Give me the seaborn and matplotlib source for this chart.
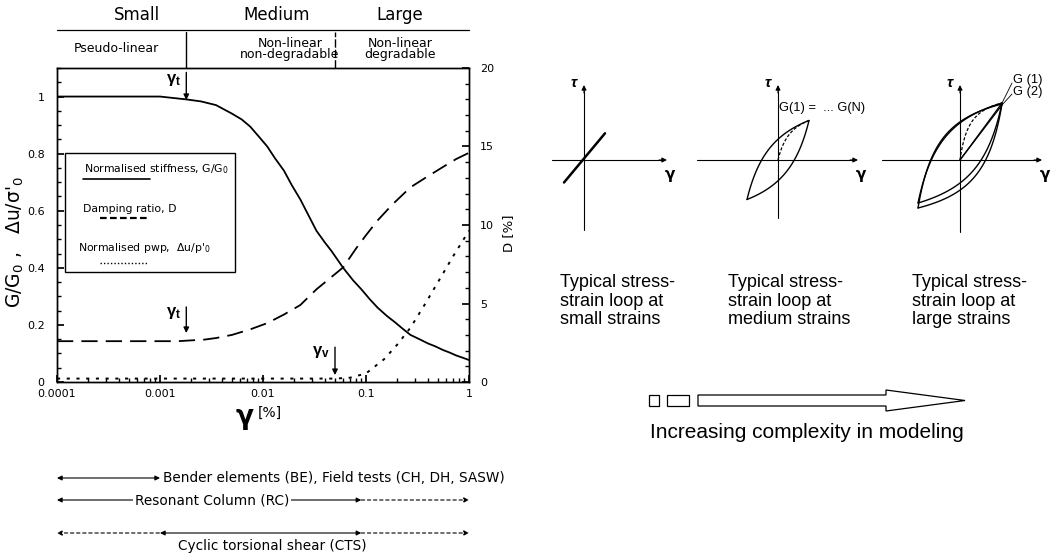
import numpy as np
import pandas as pd
import matplotlib
matplotlib.use("Agg")
import matplotlib.pyplot as plt
import seaborn as sns
from matplotlib.transforms import blended_transform_factory
from matplotlib.patches import Rectangle, Polygon
from matplotlib.ticker import MultipleLocator, LogLocator, NullFormatter, FixedLocator, FixedFormatter

# ---- stiffness degradation, damping and pore pressure vs shear strain (%) ----
gamma_G = [1e-4, 3e-4, 1e-3, 1.8e-3, 2.5e-3, 3.5e-3, 5e-3, 6.2e-3, 7.5e-3, 9e-3,
           0.011, 0.013, 0.016, 0.019, 0.023, 0.028, 0.033, 0.04, 0.046, 0.06,
           0.075, 0.09, 0.11, 0.13, 0.16, 0.19, 0.23, 0.27, 0.33, 0.4, 0.47,
           0.56, 0.65, 0.75, 0.87, 1.0]
G_ratio = [1.0, 1.0, 1.0, 0.99, 0.983, 0.97, 0.94, 0.92, 0.895, 0.862,
           0.825, 0.785, 0.74, 0.69, 0.64, 0.58, 0.53, 0.488, 0.46, 0.40,
           0.356, 0.325, 0.288, 0.26, 0.231, 0.21, 0.185, 0.165, 0.15, 0.135, 0.125,
           0.112, 0.103, 0.093, 0.085, 0.077]

gamma_D = [1e-4, 1e-3, 1.5e-3, 2e-3, 2.7e-3, 3.5e-3, 5e-3, 7.5e-3, 0.011, 0.016,
           0.023, 0.033, 0.04, 0.06, 0.08, 0.1, 0.13, 0.18, 0.27, 0.37, 0.56, 0.75, 1.0]
damping = [2.6, 2.6, 2.6, 2.65, 2.7, 2.8, 3.0, 3.35, 3.75, 4.3,
           4.9, 5.9, 6.35, 7.3, 8.5, 9.35, 10.3, 11.3, 12.4, 12.97, 13.7, 14.2, 14.6]

gamma_u = [1e-4, 1e-3, 0.01, 0.05, 0.07, 0.1, 0.15, 0.2, 0.27, 0.37, 0.5, 0.7, 1.0]
pwp = [0.012, 0.012, 0.012, 0.012, 0.015, 0.03, 0.08, 0.13, 0.19, 0.27, 0.35, 0.44, 0.53]

# threshold strains
gamma_t = 0.0018
gamma_v = 0.05

# strain-level zones
zone_names = ["Small", "Medium", "Large"]
zone_centers = [6e-4, 0.0137, 0.214]
behaviour_names = ["Pseudo-linear", "Non-linear\nnon-degradable", "Non-linear\ndegradable"]
behaviour_centers = [3.8e-4, 0.0183, 0.214]

# laboratory / field test strain ranges: (start, end, solid?)
test_names = ["Bender elements (BE), Field tests (CH, DH, SASW)",
              "Resonant Column (RC)",
              "Cyclic torsional shear (CTS)"]
test_segments = [
    [(1e-4, 1e-3, True)],
    [(1e-4, 0.09, True), (0.09, 1.0, False)],
    [(1e-4, 1e-3, False), (1e-3, 0.09, True), (0.09, 1.0, False)],
]

x_ticks = [1e-4, 1e-3, 1e-2, 1e-1, 1.0]
x_ticklabels = ["0.0001", "0.001", "0.01", "0.1", "1"]
yl_ticks = [0, 0.2, 0.4, 0.6, 0.8, 1.0]
yl_ticklabels = ["0", "0.2", "0.4", "0.6", "0.8", "1"]
yr_ticks = [0, 5, 10, 15, 20]

loop_captions = ["Typical stress-\nstrain loop at\nsmall strains",
                 "Typical stress-\nstrain loop at\nmedium strains",
                 "Typical stress-\nstrain loop at\nlarge strains"]

sns.set_theme(style="ticks")
plt.rcParams["font.family"] = ["Liberation Sans", "DejaVu Sans"]
plt.rcParams["mathtext.default"] = "regular"
for key in ("text.color", "axes.labelcolor", "xtick.color", "ytick.color",
            "axes.edgecolor"):
    plt.rcParams[key] = "black"
LF = "DejaVu Sans"   # font of the strain chart

W, H = 1057, 555
fig = plt.figure(figsize=(W / 100, H / 100), dpi=100)


def fbox(x0, y0, x1, y1):
    """pixel box (top-left origin) -> figure fraction rect"""
    return [x0 / W, 1 - y1 / H, (x1 - x0) / W, (y1 - y0) / H]


# ---------------- main chart ----------------
ax = fig.add_axes(fbox(57, 68, 469, 382))
ax.set_xscale("log")
ax.set_xlim(1e-4, 1.0)
ax.set_ylim(0, 1.1)
ax2 = ax.twinx()
ax2.set_ylim(0, 20)

dfG = pd.DataFrame({"gamma": gamma_G, "G": G_ratio})
dfD = pd.DataFrame({"gamma": gamma_D, "D": damping})
dfU = pd.DataFrame({"gamma": gamma_u, "u": pwp})

sns.lineplot(data=dfG, x="gamma", y="G", ax=ax, color="black", lw=1.3,
             estimator=None, sort=False)
sns.lineplot(data=dfU, x="gamma", y="u", ax=ax, color="black", lw=1.4,
             estimator=None, sort=False)
ax.lines[-1].set_dashes((1.6, 3.4))
sns.lineplot(data=dfD, x="gamma", y="D", ax=ax2, color="black", lw=1.3,
             estimator=None, sort=False)
ax2.lines[-1].set_dashes((9, 4.5))

for a in (ax, ax2):
    for s in a.spines.values():
        s.set_linewidth(1.0)
        s.set_color("black")

ax.xaxis.set_major_locator(FixedLocator(x_ticks))
ax.xaxis.set_major_formatter(FixedFormatter(x_ticklabels))
ax.xaxis.set_minor_locator(LogLocator(base=10, subs=np.arange(2, 10)))
ax.xaxis.set_minor_formatter(NullFormatter())
ax.yaxis.set_major_locator(FixedLocator(yl_ticks))
ax.yaxis.set_major_formatter(FixedFormatter(yl_ticklabels))
ax.yaxis.set_minor_locator(MultipleLocator(0.05))
ax2.yaxis.set_major_locator(FixedLocator(yr_ticks))
ax2.yaxis.set_minor_locator(MultipleLocator(1))

ax.tick_params(axis="both", which="both", direction="in", labelsize=8, color="black",
               labelcolor="black")
ax.tick_params(axis="y", which="major", length=5, pad=9)
ax.tick_params(axis="y", which="minor", length=3)
ax.tick_params(axis="x", which="major", length=5, pad=5)
ax.tick_params(axis="x", which="minor", length=3)
ax2.tick_params(axis="y", which="both", direction="in", labelsize=8, pad=8,
                color="black", labelcolor="black")
ax2.tick_params(axis="y", which="major", length=5)
ax2.tick_params(axis="y", which="minor", length=3)
for lab in ax.get_xticklabels() + ax.get_yticklabels() + ax2.get_yticklabels():
    lab.set_family(LF)

ax.set_xlabel("")
ax.set_ylabel("G/G$_0$ ,   Δu/σ'$_0$", fontsize=13.5, family=LF)
ax.yaxis.set_label_coords(-0.075, 0.446)
ax2.set_ylabel("D [%]", fontsize=9.5, family=LF)
ax2.yaxis.set_label_coords(1.08, 0.475)

# strain axis title
ax.text(0.455, -0.113, "γ", transform=ax.transAxes, fontsize=19, fontweight="bold",
        ha="center", va="center", family=LF)
ax.text(0.487, -0.098, "[%]", transform=ax.transAxes, fontsize=10, ha="left",
        va="center", family=LF)

# zone headers
bt = blended_transform_factory(ax.transData, ax.transAxes)
ax.plot([0, 1], [1.121, 1.121], transform=ax.transAxes, color="black", lw=0.9, clip_on=False)
for name, xc in zip(zone_names, zone_centers):
    ax.text(xc, 1.17, name, transform=bt, ha="center", va="center", fontsize=12,
            family=LF)
for name, xc in zip(behaviour_names, behaviour_centers):
    ax.text(xc, 1.062, name, transform=bt, ha="center", va="center", fontsize=9,
            linespacing=0.8, family=LF)
ax.plot([gamma_t, gamma_t], [1.0, 1.115], transform=bt, color="black", lw=1.0, clip_on=False)
ax.plot([gamma_v, gamma_v], [1.0, 1.115], transform=bt, color="black", lw=1.0,
        ls=(0, (6, 1.5)), clip_on=False)

# threshold arrows
arrow_kw = dict(arrowstyle="-|>", color="black", lw=1.0, mutation_scale=8,
                shrinkA=0, shrinkB=0)
for y0, y1, ylab, lab in [(0.986, 0.898, 0.962, r"$\gamma_t$  "),
                          (0.239, 0.156, 0.22, r"$\gamma_t$  "),
                          (0.111, 0.022, 0.095, r"$\gamma_v$  ")]:
    gx = gamma_v if "v" in lab else gamma_t
    ax.annotate("", xy=(gx, y1), xytext=(gx, y0), xycoords=bt, textcoords=bt,
                arrowprops=arrow_kw)
    ax.text(gx, ylab, lab, transform=bt, ha="right", va="center", fontsize=12,
            fontweight="bold")

# key box
ax.add_patch(Rectangle((0.019, 0.350), 0.413, 0.379, transform=ax.transAxes,
                       fill=False, ec="black", lw=1.0, zorder=5))
ax.text(0.24, 0.678, "Normalised stiffness, G/G$_0$", transform=ax.transAxes,
        ha="center", va="center", fontsize=7.8, family=LF)
ax.plot([0.063, 0.226], [0.646, 0.646], transform=ax.transAxes, color="black", lw=1.2)
ax.text(0.177, 0.551, "Damping ratio, D", transform=ax.transAxes,
        ha="center", va="center", fontsize=7.8, family=LF)
ax.plot([0.104, 0.218], [0.522, 0.522], transform=ax.transAxes, color="black", lw=1.6,
        dashes=(3, 1.5))
ax.text(0.213, 0.427, "Normalised pwp,  Δu/p'$_0$", transform=ax.transAxes,
        ha="center", va="center", fontsize=7.8, family=LF)
ax.plot([0.104, 0.218], [0.379, 0.379], transform=ax.transAxes, color="black", lw=1.0,
        dashes=(1, 1.5))

# ---------------- test ranges below the chart ----------------
tb = blended_transform_factory(ax.transData, fig.transFigure)
row_y = [1 - 478 / H, 1 - 500 / H, 1 - 533 / H]
for i, (segs, y) in enumerate(zip(test_segments, row_y)):
    for j, (g0, g1, solid) in enumerate(segs):
        left_head = (j == 0) or (solid and i == 2)
        right_head = solid or g1 == 1.0
        style = ("<|-|>" if left_head and right_head else
                 "<|-" if left_head else "-|>")
        ax.annotate("", xy=(g1, y), xytext=(g0, y), xycoords=tb, textcoords=tb,
                    arrowprops=dict(arrowstyle=style, color="black", lw=0.8,
                                    mutation_scale=7, shrinkA=0, shrinkB=0,
                                    linestyle="-" if solid else (0, (3, 2.5))),
                    annotation_clip=False)
ax.text(1.07e-3, row_y[0], test_names[0], transform=tb, ha="left", va="center",
        fontsize=9.8, family=LF)
ax.text(3.2e-3, row_y[1], test_names[1], transform=tb, ha="center", va="center",
        fontsize=9.8, family=LF, bbox=dict(fc="white", ec="none", pad=1.0))
ax.text(0.0122, 1 - 546 / H, test_names[2], transform=tb, ha="center", va="center",
        fontsize=9.8, family=LF)

# ---------------- stress-strain loop sketches ----------------
ov = fig.add_axes([0, 0, 1, 1], facecolor="none")
ov.set_xlim(0, W)
ov.set_ylim(H, 0)
ov.axis("off")

panel_origin = [(584, 160), (778, 160), (960, 160)]
panel_h = [(552, 667), (697, 858), (882, 1042)]
panel_v = [(85, 230), (85, 218), (85, 232)]


def backbone(g, g0, gr):
    return g0 * g / (1 + np.abs(g) / gr)


def masing(ga, ta, gr, off):
    g0 = ta * (1 + ga / gr) / ga
    g = np.linspace(-ga, ga, 120)
    upper = -ta + 2 * backbone((g + ga) / 2, g0, gr) + off
    lower = ta - 2 * backbone((ga - g) / 2, g0, gr) + off
    return g, upper, lower, g0


for (ox, oy), (hx0, hx1), (vy0, vy1) in zip(panel_origin, panel_h, panel_v):
    ov.plot([hx0, hx1 - 6], [oy, oy], color="black", lw=0.8)
    ov.annotate("", xy=(hx1, oy), xytext=(hx1 - 8, oy),
                arrowprops=dict(arrowstyle="-|>", color="black", lw=0.8,
                                mutation_scale=7, shrinkA=0, shrinkB=0))
    ov.plot([ox, ox], [vy0 + 6, vy1], color="black", lw=0.8)
    ov.annotate("", xy=(ox, vy0), xytext=(ox, vy0 + 8),
                arrowprops=dict(arrowstyle="-|>", color="black", lw=0.8,
                                mutation_scale=7, shrinkA=0, shrinkB=0))
    ov.text(ox - 7, vy0 - 2, "τ", ha="right", va="center", fontsize=11,
            fontstyle="italic", fontweight="bold")
    ov.text(hx1 + 3, oy + 15, "γ", ha="center", va="center", fontsize=11,
            fontweight="bold", family=LF)

# small strain: linear
ox, oy = panel_origin[0]
g = np.linspace(-20, 21, 10)
ov.plot(ox + g, oy - (1.2 * g + 1.5), color="black", lw=1.8)

# medium strain: stable loop with initial loading curve
ox, oy = panel_origin[1]
g, up, lo, g0 = masing(31, 39.5, 14, 0)
ov.plot(ox + g, oy - up, color="black", lw=1.0)
ov.plot(ox + g, oy - lo, color="black", lw=1.0)
gb = np.linspace(0, 31, 40)
ov.plot(ox + gb, oy - backbone(gb, g0, 14), color="black", lw=0.9, dashes=(2.5, 1.5))
ov.text(ox + 1, 108, "G(1) =  ... G(N)", ha="left", va="center", fontsize=9.3)

# large strain: degrading loops
ox, oy = panel_origin[2]
for ta, gr, off in [(50, 14, 7), (52, 11, 4)]:
    g, up, lo, g0 = masing(42, ta, gr, off)
    ov.plot(ox + g, oy - up, color="black", lw=1.0)
    ov.plot(ox + g, oy - lo, color="black", lw=1.0)
gb = np.linspace(0, 42, 40)
g0b = 57 * (1 + 42 / 10) / 42
ov.plot(ox + gb, oy - backbone(gb, g0b, 10), color="black", lw=0.9, dashes=(2.5, 1.5))
for tip in (57, 55):
    ov.plot([ox, ox + 42], [oy, oy - tip], color="black", lw=0.9)
ov.plot([ox + 42, ox + 52], [oy - 57, oy - 77], color="black", lw=0.6)
ov.plot([ox + 42, ox + 52], [oy - 55, oy - 66], color="black", lw=0.6)
ov.text(ox + 53, 80, "G (1)", ha="left", va="center", fontsize=9.3)
ov.text(ox + 53, 92, "G (2)", ha="left", va="center", fontsize=9.3)

for x0, cap in zip([560, 728, 912], loop_captions):
    ov.text(x0, 301, cap, ha="left", va="center", fontsize=13, linespacing=1.15)

# ---------------- modelling complexity arrow ----------------
ov.add_patch(Rectangle((649, 395), 10, 11, fill=False, ec="black", lw=0.9))
ov.add_patch(Rectangle((667, 395), 22, 11, fill=False, ec="black", lw=0.9))
ov.add_patch(Polygon([(698, 395), (886, 395), (886, 390), (965, 400.5),
                      (886, 411), (886, 406), (698, 406)], closed=True,
                     fill=False, ec="black", lw=0.9))
ov.text(807, 432, "Increasing complexity in modeling", ha="center", va="center",
        fontsize=15)

fig.savefig("out.png", dpi=100)
